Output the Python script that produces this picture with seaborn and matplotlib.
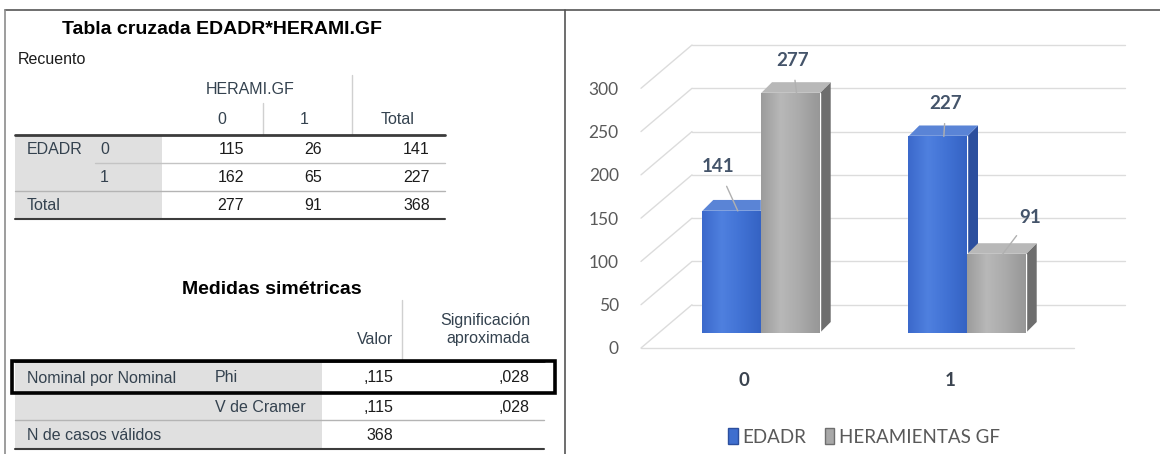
import numpy as np
import pandas as pd
import matplotlib
matplotlib.use('Agg')
import matplotlib.pyplot as plt
import seaborn as sns
from matplotlib.lines import Line2D
from matplotlib.patches import Rectangle, Polygon, Patch
from matplotlib.colors import to_rgb
from matplotlib.transforms import ScaledTranslation, IdentityTransform

# --- data: crosstab EDADR * HERAMI.GF ---
herami_levels = ['0', '1']
edadr_levels = ['0', '1']
row_edadr0 = [115, 26, 141]
row_edadr1 = [162, 65, 227]
row_total = [277, 91, 368]

# --- data: symmetric measures ---
phi_values = [',115', ',028']
cramer_values = [',115', ',028']
n_valid = '368'

# --- data: 3D-style bar chart ---
chart_groups = ['0', '1']
chart_series = ['EDADR', 'HERAMIENTAS GF']
edadr_counts = [141, 227]
herramientas_counts = [277, 91]
y_ticks = [0, 50, 100, 150, 200, 250, 300]

W, H = 1160, 454
sns.set_style('white')
plt.rcParams['font.family'] = ['Liberation Sans', 'DejaVu Sans']
CHART_FONT = ['Lato', 'Liberation Sans', 'DejaVu Sans']

fig = plt.figure(figsize=(W / 100, H / 100), dpi=100)


def fx(x):
    return x / W


def fy(y):
    return 1 - y / H


def hline(x1, x2, y, color='#b4b4b4', lw=1.0):
    fig.add_artist(Line2D([fx(x1), fx(x2)], [fy(y), fy(y)], color=color, lw=lw,
                          transform=fig.transFigure))


def vline(x, y1, y2, color='#d0d0d0', lw=1.0):
    fig.add_artist(Line2D([fx(x), fx(x)], [fy(y1), fy(y2)], color=color, lw=lw,
                          transform=fig.transFigure))


def txt(x, y, s, ha='left', size=11.5, color='#34424f', weight='normal'):
    fig.text(fx(x), fy(y), s, ha=ha, va='center', fontsize=size, color=color,
             fontweight=weight)


def shade(x1, x2, y1, y2, color='#e0e0e0'):
    fig.add_artist(Rectangle((fx(x1), fy(y2)), fx(x2) - fx(x1), fy(y1) - fy(y2),
                             transform=fig.transFigure, facecolor=color,
                             edgecolor='none', zorder=0))


# frame of the composite picture
hline(5, W, 10, color='#555555', lw=1.2)
vline(5, 10, H, color='#8c8c8c', lw=1.2)
vline(565, 10, H, color='#555555', lw=1.2)

DATA = '#1c1c1c'

# ---------------- crosstab ----------------
txt(62, 30, 'Tabla cruzada EDADR*HERAMI.GF', size=14, color='black', weight='bold')
txt(18, 60, 'Recuento', color='#1c1c1c')
shade(15, 162, 135, 219)
txt(250, 89, 'HERAMI.GF', ha='center')
col_centers = [222, 304, 398]
for c, s in zip(col_centers, herami_levels + ['Total']):
    txt(c, 120, s, ha='center')
vline(352, 75, 135)
vline(263, 103, 135)
hline(15, 445, 135, color='#3c3c3c', lw=2)

col_right = [244, 322, 430]
row_y = [150, 177, 205]
txt(27, row_y[0], 'EDADR')
txt(100, row_y[0], edadr_levels[0])
txt(100, row_y[1], edadr_levels[1])
txt(27, row_y[2], 'Total')
for y, vals in zip(row_y, [row_edadr0, row_edadr1, row_total]):
    for xr, v in zip(col_right, vals):
        txt(xr, y, str(v), ha='right', color=DATA)
hline(95, 445, 163, color='#c4c4c4')
hline(15, 445, 191, color='#b4b4b4')
hline(15, 445, 219, color='#3c3c3c', lw=1.5)

# ---------------- symmetric measures ----------------
txt(272, 290, 'Medidas simétricas', ha='center', size=14, color='black', weight='bold')
txt(530, 321, 'Significación', ha='right')
txt(530, 339, 'aproximada', ha='right')
txt(393, 339, 'Valor', ha='right')
vline(402, 300, 361)
shade(15, 322, 361, 449)
hline(15, 544, 361, color='#3c3c3c', lw=2)
txt(27, 378, 'Nominal por Nominal')
txt(215, 378, 'Phi')
txt(393, 378, phi_values[0], ha='right', color=DATA)
txt(530, 378, phi_values[1], ha='right', color=DATA)
hline(205, 544, 393, color='#c4c4c4')
txt(215, 407, 'V de Cramer')
txt(393, 407, cramer_values[0], ha='right', color=DATA)
txt(530, 407, cramer_values[1], ha='right', color=DATA)
hline(15, 544, 420, color='#b4b4b4')
txt(27, 436, 'N de casos válidos')
txt(393, 436, n_valid, ha='right', color=DATA)
hline(15, 544, 449, color='#3c3c3c', lw=1.5)
fig.add_artist(Rectangle((fx(12), fy(393)), fx(555) - fx(12), fy(361) - fy(393),
                         transform=fig.transFigure, facecolor='none',
                         edgecolor='black', lw=2.6, zorder=5))

# ---------------- bar chart ----------------
BLUE, BLUE_SIDE, BLUE_TOP = '#3f6fcf', '#2c4f9e', '#5a84d6'
GREY, GREY_SIDE, GREY_TOP = '#a8a8a8', '#6e6e6e', '#b8b8b8'
# left edge -> highlight -> right edge of each front face
BLUE_GRAD = ['#3b69cb', '#4f80df', '#4172d4', '#3563c4']
GREY_GRAD = ['#9c9c9c', '#b8b8b8', '#aaaaaa', '#979797']

x0, x1 = -0.5, 1.6
unit = 206  # pixels per category step
ax = fig.add_axes([fx(641), fy(348), (x1 - x0) * unit / W, fy(45) - fy(348)])
df = pd.DataFrame({
    'grupo': chart_groups * 2,
    'serie': [chart_series[0]] * len(chart_groups) + [chart_series[1]] * len(chart_groups),
    'valor': edadr_counts + herramientas_counts,
})
sns.barplot(data=df, x='grupo', y='valor', hue='serie', order=chart_groups,
            hue_order=chart_series, palette=[BLUE, GREY], width=0.57,
            saturation=1, legend=False, ax=ax)
ax.set_xlim(x0, x1)
ax.set_ylim(0, 350)
for s in ax.spines.values():
    s.set_visible(False)

# perspective grid: back wall lines and left diagonals
dx, dy = 0.2476, 50
for v in y_ticks:
    ax.plot([x0 + dx, x1 + dx], [v + dy, v + dy], color='#dcdcdc', lw=1,
            clip_on=False, zorder=0)
    ax.plot([x0, x0 + dx], [v, v + dy], color='#dcdcdc', lw=1, clip_on=False, zorder=0)
ax.plot([x0, x1], [0, 0], color='#dcdcdc', lw=1, clip_on=False, zorder=0)

ax.set_yticks(y_ticks)
ax.set_yticklabels([str(t) for t in y_ticks], fontsize=12.5, color='#595959',
                   family=CHART_FONT)
ax.set_xticks(range(len(chart_groups)))
ax.set_xticklabels(chart_groups, fontsize=13.5, color='#3b4450', family=CHART_FONT)
for lbl in ax.get_xticklabels():
    lbl.set_fontweight('bold')
ax.tick_params(axis='y', length=0, pad=16)
ax.tick_params(axis='x', length=0, pad=17)
ax.set_xlabel('')
ax.set_ylabel('')


def gradient(stops, n=64):
    cols = np.array([to_rgb(c) for c in stops])
    pos = np.linspace(0, 1, len(stops))
    t = np.linspace(0, 1, n)
    row = np.stack([np.interp(t, pos, cols[:, k]) for k in range(3)], axis=1)
    return np.repeat(row[None, :, :], 2, axis=0)


bar_shift = ax.transData + ScaledTranslation(0.17, 0.15, fig.dpi_scale_trans)
face_cols = ([(BLUE_SIDE, BLUE_TOP, BLUE_GRAD)] * len(chart_groups)
             + [(GREY_SIDE, GREY_TOP, GREY_GRAD)] * len(chart_groups))
label_offsets = [(-20, 44), (-4, 33), (2, 33), (28, 37)]
bars = list(ax.patches)
order = [0, 2, 1, 3]  # blue0, grey0, blue1, grey1
bd, bdy = 11, 11
for i, p in enumerate(bars):
    p.set_transform(bar_shift)
    p.set_zorder(2)
    xl, w, h = p.get_x(), p.get_width(), p.get_height()
    side_c, top_c, grad = face_cols[i]
    im = ax.imshow(gradient(grad), extent=[xl, xl + w, 0, h], aspect='auto',
                   interpolation='bilinear', zorder=2.1)
    im.set_transform(bar_shift)
    im.set_clip_path(p)
    (ax_l, yb), (ax_r, yt) = bar_shift.transform([(xl, 0), (xl + w, h)])
    side = Polygon([(ax_r, yb), (ax_r + bd, yb + bdy), (ax_r + bd, yt + bdy), (ax_r, yt)],
                   closed=True, facecolor=side_c, edgecolor='none',
                   transform=IdentityTransform(), clip_on=False, zorder=1.5)
    top = Polygon([(ax_l, yt), (ax_r, yt), (ax_r + bd, yt + bdy), (ax_l + bd, yt + bdy)],
                  closed=True, facecolor=top_c, edgecolor='none',
                  transform=IdentityTransform(), clip_on=False, zorder=1.5)
    ax.add_patch(side)
    ax.add_patch(top)
ax.set_xlim(x0, x1)
ax.set_ylim(0, 350)

for k, p in enumerate([bars[j] for j in order]):
    xl, w, h = p.get_x(), p.get_width(), p.get_height()
    ax.annotate(f'{h:.0f}', xy=(xl + w / 2 + 0.03, h), xycoords=bar_shift,
                xytext=label_offsets[k], textcoords='offset pixels',
                ha='center', va='center', fontsize=13.5, fontweight='bold',
                color='#44546a', zorder=6, family=CHART_FONT,
                arrowprops=dict(arrowstyle='-', color='#b0b0b0', lw=1,
                                shrinkA=6, shrinkB=0))

handles = [Patch(facecolor=BLUE, edgecolor=BLUE_SIDE), Patch(facecolor=GREY, edgecolor=GREY_SIDE)]
fig.legend(handles, chart_series, loc='center', bbox_to_anchor=(fx(864), fy(437)),
           ncol=2, frameon=False, handlelength=0.5, handleheight=0.9,
           handletextpad=0.25, columnspacing=1.0,
           prop={'family': CHART_FONT, 'size': 13.5}, labelcolor='#595959')

fig.savefig('out.png', dpi=100)
